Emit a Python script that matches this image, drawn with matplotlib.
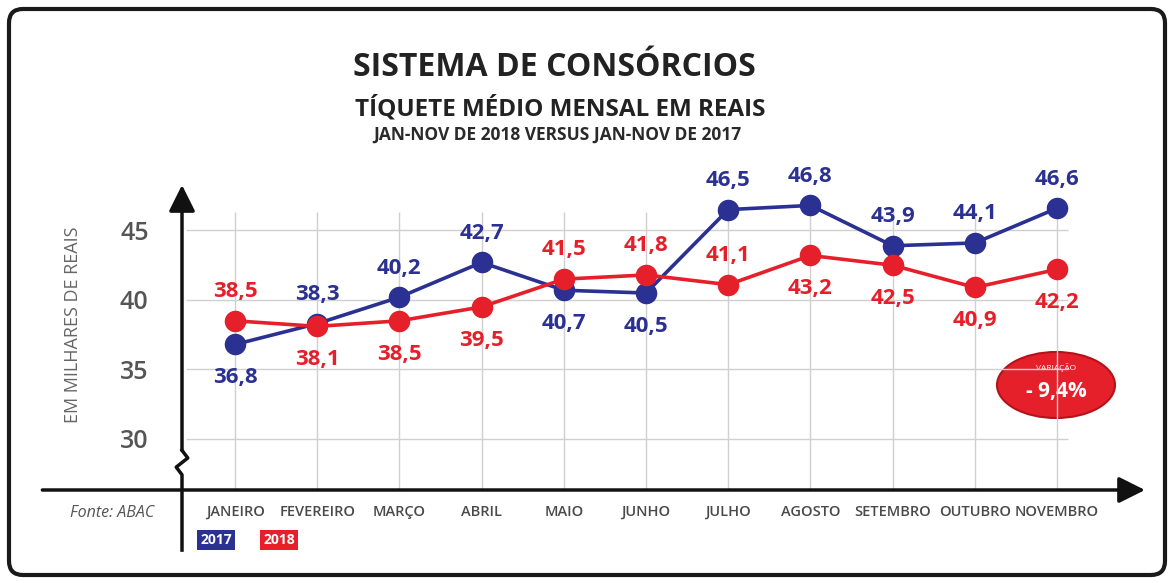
import matplotlib
matplotlib.use("Agg")
import matplotlib.pyplot as plt
from matplotlib.patches import FancyBboxPatch, Ellipse


MONTHS = ["JANEIRO", "FEVEREIRO", "MARÇO", "ABRIL", "MAIO", "JUNHO",
          "JULHO", "AGOSTO", "SETEMBRO", "OUTUBRO", "NOVEMBRO"]
VALUES_2017 = [36.8, 38.3, 40.2, 42.7, 40.7, 40.5, 46.5, 46.8, 43.9, 44.1, 46.6]
VALUES_2018 = [38.5, 38.1, 38.5, 39.5, 41.5, 41.8, 41.1, 43.2, 42.5, 40.9, 42.2]
# label above (True) or below (False) the point
ABOVE_2017 = [False, True, True, True, False, False, True, True, True, True, True]
ABOVE_2018 = [True, False, False, False, True, True, True, False, False, False, False]
Y_TICKS = [30, 35, 40, 45]
SERIES_NAMES = ["2017", "2018"]

TITLE = "SISTEMA DE CONSÓRCIOS"
SUBTITLE = "TÍQUETE MÉDIO MENSAL EM REAIS"
SUBTITLE2 = "JAN-NOV DE 2018 VERSUS JAN-NOV DE 2017"
Y_LABEL = "EM MILHARES DE REAIS"
SOURCE = "Fonte: ABAC"
VARIATION = "- 9,4%"

BLUE = "#2B3192"
RED = "#E5202A"
W, H = 1174, 583


def fmt(v):
    return f"{v:.1f}".replace(".", ",")


def main():
    plt.rcParams["font.family"] = ["Open Sans", "DejaVu Sans"]
    fig = plt.figure(figsize=(W / 100, H / 100), dpi=100)

    # decoration layer in pixel coordinates
    deco = fig.add_axes([0, 0, 1, 1], zorder=0)
    deco.set_xlim(0, W)
    deco.set_ylim(H, 0)
    deco.axis("off")
    deco.add_patch(FancyBboxPatch((9, 9), W - 18, H - 17,
                                  boxstyle="round,pad=0,rounding_size=14",
                                  fc="none", ec="#1a1a1a", lw=3))
    deco.text(554, 68, TITLE, ha="center", va="center", fontsize=23,
              fontweight="bold", color="#222222")
    deco.text(560, 109, SUBTITLE, ha="center", va="center", fontsize=17.5,
              fontweight="bold", color="#222222")
    deco.text(557, 135, SUBTITLE2, ha="center", va="center", fontsize=12.5,
              fontweight="bold", color="#2a2a2a")
    deco.text(73, 325, Y_LABEL, ha="center", va="center", rotation=90,
              fontsize=13, color="#666666")
    deco.text(112, 513, SOURCE, ha="center", va="center", fontsize=11.5,
              style="italic", color="#555555")
    deco.text(216, 540, SERIES_NAMES[0], ha="center", va="center", fontsize=10,
              fontweight="bold", color="white",
              bbox=dict(boxstyle="square,pad=0.2", fc=BLUE, ec="none"))
    deco.text(279, 540, SERIES_NAMES[1], ha="center", va="center", fontsize=10,
              fontweight="bold", color="white",
              bbox=dict(boxstyle="square,pad=0.2", fc=RED, ec="none"))
    deco.add_patch(Ellipse((1056, 385), 118, 66, fc=RED, ec="#B5121B", lw=1.5, zorder=5))
    deco.text(1056, 368, "VARIAÇÃO", ha="center", va="center", fontsize=6,
              color="white", zorder=6)
    deco.text(1056, 391, VARIATION, ha="center", va="center", fontsize=15,
              fontweight="bold", color="white", zorder=6)

    # chart axes
    ax = fig.add_axes([182 / W, 1 - 490 / H, (1145 - 182) / W, (490 - 185) / H], zorder=1)
    ax.patch.set_alpha(0)
    x = list(range(len(MONTHS)))
    ax.set_xlim(-0.645, 11.07)
    ax.set_ylim(26.33, 48.27)
    for s in ax.spines.values():
        s.set_visible(False)

    ax.hlines(Y_TICKS, -0.6, 10.13, color="#D0D0D0", lw=1, zorder=1)
    ax.vlines(x, 26.33, 46.3, color="#D0D0D0", lw=1, zorder=1)

    ax.set_xticks(x)
    ax.set_xticklabels(MONTHS)
    ax.set_yticks(Y_TICKS)
    ax.tick_params(axis="y", length=0, pad=24, labelsize=18, labelcolor="#555555")
    ax.tick_params(axis="x", length=0, pad=11, labelsize=10.5, labelcolor="#4a4a4a")
    for lab in ax.get_yticklabels():
        lab.set_fontweight("semibold")
    for lab in ax.get_xticklabels():
        lab.set_fontweight("semibold")

    # axis arrows
    ax.annotate("", xy=(1.0, 0), xytext=(-0.145, 0), xycoords="axes fraction",
                arrowprops=dict(arrowstyle="-|>", lw=2.5, color="#111111",
                                mutation_scale=40, shrinkA=0, shrinkB=0))
    ax.annotate("", xy=(0, 1.0), xytext=(0, 0.13), xycoords="axes fraction",
                arrowprops=dict(arrowstyle="-|>", lw=2.5, color="#111111",
                                mutation_scale=40, shrinkA=0, shrinkB=0))
    ax.plot([0, 0, -0.006, 0.006, 0, 0], [-0.197, 0.05, 0.075, 0.105, 0.13, 0.13],
            transform=ax.transAxes, color="#111111", lw=2.5, clip_on=False)

    for vals, above, color in ((VALUES_2017, ABOVE_2017, BLUE), (VALUES_2018, ABOVE_2018, RED)):
        ax.plot(x, vals, color=color, lw=2.6, marker="o", markersize=14.5, zorder=3)
        for xi, v, up in zip(x, vals, above):
            ax.annotate(fmt(v), (xi, v), xytext=(0, 21 if up else -24),
                        textcoords="offset points", ha="center", va="center",
                        fontsize=16, fontweight="bold", color=color, zorder=4)

    fig.savefig("out.png", dpi=100)
    plt.close(fig)


if __name__ == "__main__":
    main()
